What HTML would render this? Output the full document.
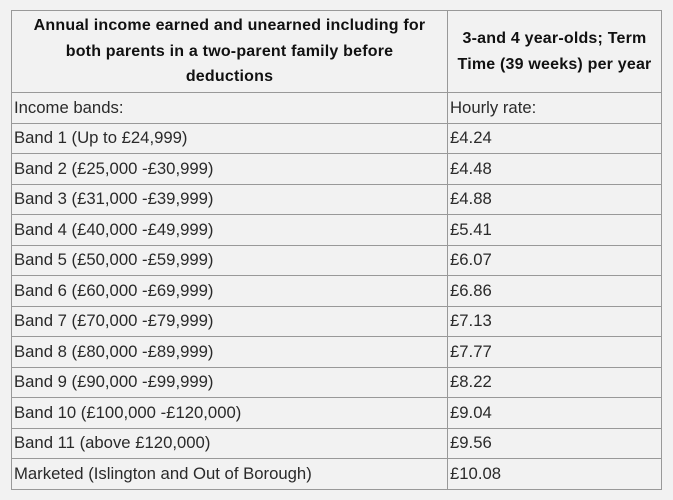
<!DOCTYPE html>
<html><head><style>
html,body{margin:0;padding:0;background:#f2f2f2;width:673px;height:500px;overflow:hidden}
table{position:absolute;left:11px;top:10px;border-collapse:collapse;width:651px;font-family:"Liberation Sans",sans-serif;font-size:16.7px;color:#2a2a2a}
td,th{border:1px solid #999;padding:0 2px;height:29.5px;text-align:left;white-space:nowrap}
th{height:81px;text-align:center;font-weight:bold;line-height:25.5px;font-size:16px;letter-spacing:0.2px;color:#111;white-space:nowrap}
</style></head><body>
<table>
<tr><th style="width:431px">Annual income earned and unearned including for<br>both parents in a two-parent family before<br>deductions</th><th>3-and 4 year-olds; Term<br>Time (39 weeks) per year</th></tr>
<tr><td>Income bands:</td><td>Hourly rate:</td></tr>
<tr><td>Band 1 (Up to £24,999)</td><td>£4.24</td></tr>
<tr><td>Band 2 (£25,000 -£30,999)</td><td>£4.48</td></tr>
<tr><td>Band 3 (£31,000 -£39,999)</td><td>£4.88</td></tr>
<tr><td>Band 4 (£40,000 -£49,999)</td><td>£5.41</td></tr>
<tr><td>Band 5 (£50,000 -£59,999)</td><td>£6.07</td></tr>
<tr><td>Band 6 (£60,000 -£69,999)</td><td>£6.86</td></tr>
<tr><td>Band 7 (£70,000 -£79,999)</td><td>£7.13</td></tr>
<tr><td>Band 8 (£80,000 -£89,999)</td><td>£7.77</td></tr>
<tr><td>Band 9 (£90,000 -£99,999)</td><td>£8.22</td></tr>
<tr><td>Band 10 (£100,000 -£120,000)</td><td>£9.04</td></tr>
<tr><td>Band 11 (above £120,000)</td><td>£9.56</td></tr>
<tr><td>Marketed (Islington and Out of Borough)</td><td>£10.08</td></tr>
</table>
</body></html>
